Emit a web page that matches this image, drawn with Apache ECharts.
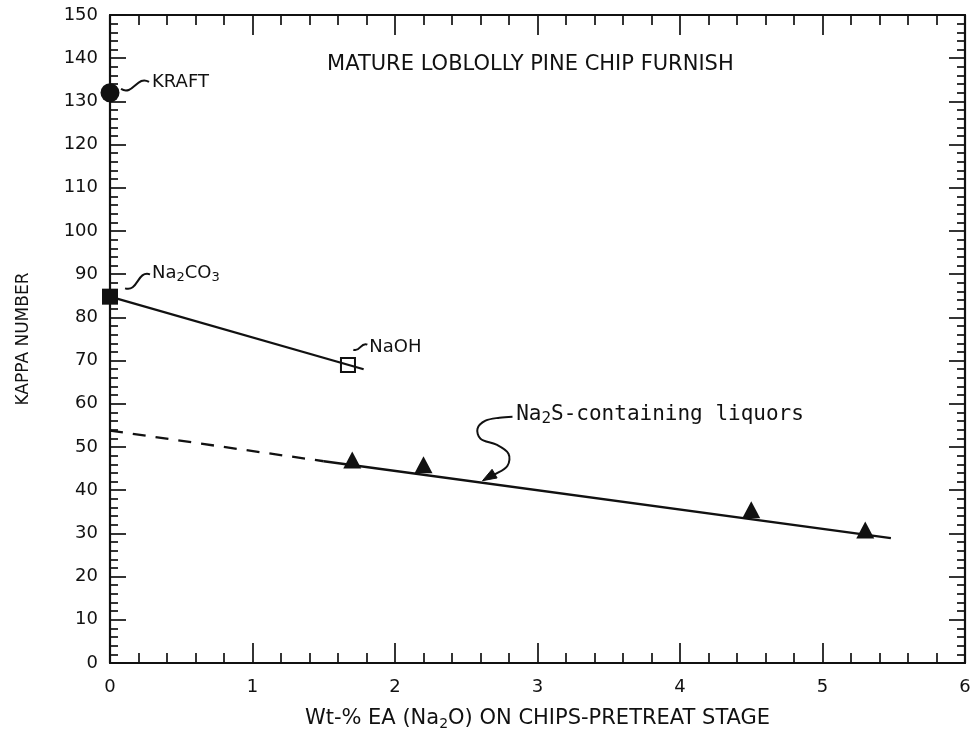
<!DOCTYPE html>
<html>
<head>
<meta charset="utf-8">
<script src="https://cdn.jsdelivr.net/npm/echarts@6/dist/echarts.min.js"></script>
<style>
  html, body { margin: 0; padding: 0; background: #fff; }
  #chart { width: 974px; height: 736px; }
</style>
</head>
<body>
<div id="chart"></div>
<script>
// ---- data ----------------------------------------------------------------
const xRange = [0, 6];
const yRange = [0, 150];

// kraft cook without pretreatment
const kraftPoint = [[0, 132]];
// pretreatment with Na2CO3 and NaOH
const carbonatePoint = [[0, 84.8]];
const hydroxidePoint = [[1.67, 69]];
const alkaliFit = [[0, 84.8], [1.78, 68]];
// pretreatment with Na2S-containing liquors
const sulfideX = [1.7, 2.2, 4.5, 5.3];
const sulfideKappa = [47, 45.9, 35.5, 30.8];
const sulfideFitDashed = [[0, 53.8], [1.5, 46.7]];
const sulfideFitSolid = [[1.5, 46.7], [5.48, 28.9]];

// annotation anchors (data coordinates)
const titleAt = [2.95, 138.6];
const kraftLabelAt = [0.295, 134.5];
const carbonateLabelAt = [0.295, 90.2];
const hydroxideLabelAt = [1.82, 73];
const sulfideLabelAt = [2.85, 57.5];
const sulfideArrowTip = [2.614, 42.2];

// ---- chart ---------------------------------------------------------------
const SANS = "'DejaVu Sans', 'Liberation Sans', sans-serif";
const MONO = "'DejaVu Sans Mono', 'Liberation Mono', monospace";
const INK = '#111';

const chart = echarts.init(document.getElementById('chart'), null, { renderer: 'canvas' });

function axisBase(pos, showLabel, major, minor) {
  const vertical = pos === 'left' || pos === 'right';
  return {
    type: 'value',
    position: pos,
    min: vertical ? yRange[0] : xRange[0],
    max: vertical ? yRange[1] : xRange[1],
    interval: vertical ? 10 : 1,
    axisLine: { show: true, onZero: false, lineStyle: { color: INK, width: 2.2 } },
    axisTick: { show: true, inside: true, length: major, lineStyle: { color: INK, width: 1.7 } },
    minorTick: { show: true, splitNumber: 5, length: minor, lineStyle: { color: INK, width: 1.7 } },
    axisLabel: {
      show: showLabel, color: INK, fontFamily: SANS, fontSize: 18,
      margin: pos === 'bottom' ? 15 : 12
    },
    splitLine: { show: false },
    minorSplitLine: { show: false }
  };
}

const sub = { fontFamily: SANS, fontSize: 14, color: INK, lineHeight: 14, padding: [12, 0, 0, 0], verticalAlign: 'bottom' };

const xBottom = Object.assign(axisBase('bottom', true, 20, 10), {
  name: '{n|Wt-% EA (Na}{s|2}{n|O) ON CHIPS-PRETREAT STAGE}',
  nameLocation: 'middle',
  nameGap: 44,
  nameTextStyle: {
    rich: {
      n: { fontFamily: SANS, fontSize: 21, color: INK, lineHeight: 24 },
      s: sub
    }
  }
});
const xTop = axisBase('top', false, 20, 10);
const yLeft = Object.assign(axisBase('left', true, 16, 8), {
  name: 'KAPPA NUMBER',
  nameLocation: 'middle',
  nameGap: 78,
  nameRotate: 90,
  nameTextStyle: { fontFamily: SANS, fontSize: 17, color: INK }
});
const yRight = axisBase('right', false, 16, 8);

const solidMark = { color: INK, opacity: 1 };

const option = {
  backgroundColor: '#fff',
  animation: false,
  grid: { left: 110, right: 9, top: 15, bottom: 64, containLabel: false },
  xAxis: [xBottom, xTop],
  yAxis: [yLeft, yRight],
  series: [
    {
      name: 'alkali fit', type: 'line', data: alkaliFit, symbol: 'none',
      lineStyle: { color: INK, width: 2.3 }, z: 2
    },
    {
      name: 'sulfide fit (extrapolated)', type: 'line', data: sulfideFitDashed, symbol: 'none',
      lineStyle: { color: INK, width: 2.3, type: [13, 10] }, z: 2
    },
    {
      name: 'sulfide fit', type: 'line', data: sulfideFitSolid, symbol: 'none',
      lineStyle: { color: INK, width: 2.3 }, z: 2
    },
    {
      name: 'KRAFT', type: 'scatter', data: kraftPoint, symbol: 'circle', symbolSize: 19,
      itemStyle: solidMark, z: 3
    },
    {
      name: 'Na2CO3', type: 'scatter', data: carbonatePoint, symbol: 'rect', symbolSize: 16,
      itemStyle: solidMark, z: 3
    },
    {
      name: 'NaOH', type: 'scatter', data: hydroxidePoint, symbol: 'rect', symbolSize: 14,
      itemStyle: { color: 'rgba(0,0,0,0)', borderColor: INK, borderWidth: 2, opacity: 1 }, z: 3
    },
    {
      name: 'Na2S-containing liquors', type: 'scatter',
      data: sulfideX.map((x, i) => [x, sulfideKappa[i]]),
      symbol: 'triangle', symbolSize: [18, 17],
      itemStyle: solidMark, z: 3
    }
  ]
};

chart.setOption(option);

// ---- annotations ---------------------------------------------------------
function px(p) { return chart.convertToPixel({ xAxisIndex: 0, yAxisIndex: 0 }, p); }

function tilde(x1, y1, x2, y2) {
  const dx = x2 - x1, dy = y2 - y1;
  const len = Math.hypot(dx, dy) || 1;
  const nx = -dy / len, ny = dx / len, a = len * 0.35;
  return {
    type: 'bezierCurve',
    shape: {
      x1, y1, x2, y2,
      cpx1: x1 + dx / 3 + nx * a, cpy1: y1 + dy / 3 + ny * a,
      cpx2: x1 + 2 * dx / 3 - nx * a, cpy2: y1 + 2 * dy / 3 - ny * a
    },
    style: { stroke: INK, lineWidth: 2, fill: null },
    z: 10
  };
}

function label(at, text, font, rich) {
  const p = px(at);
  const style = {
    text, x: p[0], y: p[1], fill: INK,
    textAlign: 'left', align: 'left',
    textVerticalAlign: 'middle', verticalAlign: 'middle'
  };
  if (rich) { style.rich = rich; } else { style.font = font; }
  return { type: 'text', style, z: 10 };
}

const richSub = {
  n: { fontFamily: SANS, fontSize: 18, fill: INK, color: INK, lineHeight: 22 },
  m: { fontFamily: MONO, fontSize: 21, fill: INK, color: INK, lineHeight: 24 },
  s: { fontFamily: SANS, fontSize: 13, fill: INK, color: INK, lineHeight: 13, padding: [11, 0, 0, 0], verticalAlign: 'bottom' },
  ms: { fontFamily: MONO, fontSize: 16, fill: INK, color: INK, lineHeight: 16, padding: [12, 0, 0, 0], verticalAlign: 'bottom' }
};

function drawAnnotations() {
  const g = [];
  // plot title
  const t = px(titleAt);
  g.push({
    type: 'text', z: 10,
    style: {
      text: 'MATURE LOBLOLLY PINE CHIP FURNISH', x: t[0], y: t[1],
      font: '21px ' + SANS, fill: INK,
      textAlign: 'center', align: 'center', textVerticalAlign: 'middle', verticalAlign: 'middle'
    }
  });

  // KRAFT
  const k = px(kraftLabelAt);
  g.push(tilde(k[0] - 31, k[1] + 7, k[0] - 3, k[1]));
  g.push(label(kraftLabelAt, 'KRAFT', '18px ' + SANS));

  // Na2CO3
  const c = px(carbonateLabelAt);
  g.push(tilde(c[0] - 27, c[1] + 15, c[0] - 2, c[1] + 1));
  g.push(label(carbonateLabelAt, '{n|Na}{s|2}{n|CO}{s|3}', null, richSub));

  // NaOH
  const h = px(hydroxideLabelAt);
  g.push(tilde(h[0] - 16, h[1] + 2, h[0] - 2, h[1] - 3));
  g.push(label(hydroxideLabelAt, 'NaOH', '18px ' + SANS));

  // Na2S-containing liquors, with curved pointer down to the fit line
  g.push(label(sulfideLabelAt, '{m|Na}{ms|2}{m|S-containing liquors}', null, richSub));
  const tip = px(sulfideArrowTip);
  const rel = [[30, -64], [17, -63], [3, -60], [-5, -52], [-2, -42], [14, -36], [26, -27], [25, -15], [12, -6], [3, -1.5]];
  g.push({
    type: 'polyline', z: 10,
    shape: { points: rel.map(r => [tip[0] + r[0], tip[1] + r[1]]), smooth: 0.35 },
    style: { stroke: INK, lineWidth: 2, fill: null }
  });
  // arrow head
  const ang = Math.atan2(-14, 24);
  const L = 14, W = 5;
  const bx = tip[0] + Math.cos(ang) * L, by = tip[1] + Math.sin(ang) * L;
  const ox = -Math.sin(ang) * W, oy = Math.cos(ang) * W;
  g.push({
    type: 'polygon', z: 10,
    shape: { points: [[tip[0], tip[1]], [bx + ox, by + oy], [bx - ox, by - oy]] },
    style: { fill: INK, stroke: INK, lineWidth: 1 }
  });

  chart.setOption({ graphic: g });
}

drawAnnotations();
</script>
</body>
</html>
